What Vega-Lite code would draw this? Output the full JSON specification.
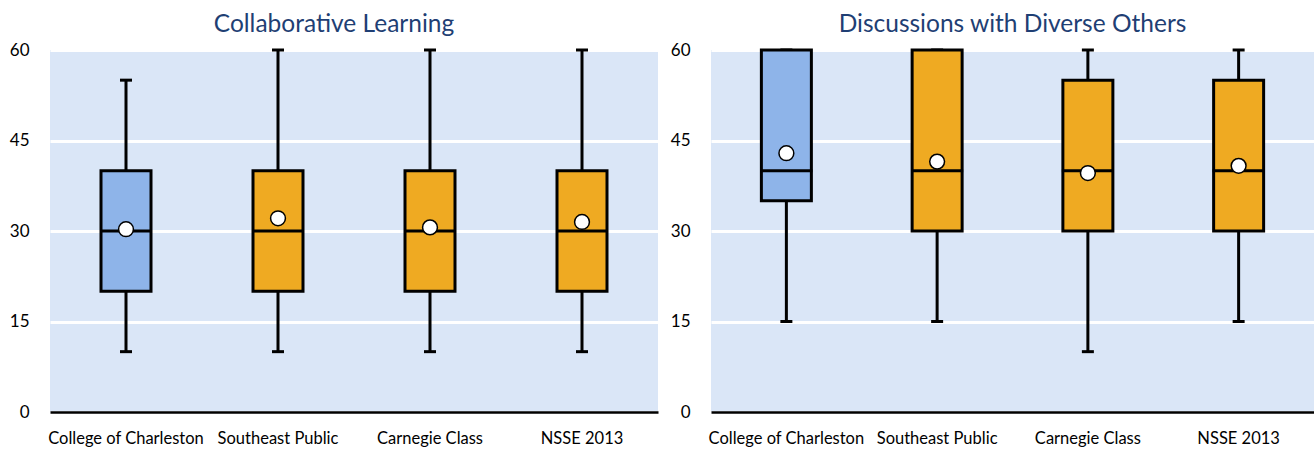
{
  "$schema": "https://vega.github.io/schema/vega-lite/v6.json",
  "padding": {"left": 9, "top": 11, "right": 0, "bottom": 0},
  "background": "white",
  "spacing": 12,
  "datasets": {
    "box": [
      {"panel": "Collaborative Learning", "group": "College of Charleston", "low": 10, "q1": 20, "median": 30, "q3": 40, "high": 55, "mean": 30.3},
      {"panel": "Collaborative Learning", "group": "Southeast Public", "low": 10, "q1": 20, "median": 30, "q3": 40, "high": 60, "mean": 32.1},
      {"panel": "Collaborative Learning", "group": "Carnegie Class", "low": 10, "q1": 20, "median": 30, "q3": 40, "high": 60, "mean": 30.6},
      {"panel": "Collaborative Learning", "group": "NSSE 2013", "low": 10, "q1": 20, "median": 30, "q3": 40, "high": 60, "mean": 31.5},
      {"panel": "Discussions with Diverse Others", "group": "College of Charleston", "low": 15, "q1": 35, "median": 40, "q3": 60, "high": 60, "mean": 42.9},
      {"panel": "Discussions with Diverse Others", "group": "Southeast Public", "low": 15, "q1": 30, "median": 40, "q3": 60, "high": 60, "mean": 41.5},
      {"panel": "Discussions with Diverse Others", "group": "Carnegie Class", "low": 10, "q1": 30, "median": 40, "q3": 55, "high": 60, "mean": 39.6},
      {"panel": "Discussions with Diverse Others", "group": "NSSE 2013", "low": 15, "q1": 30, "median": 40, "q3": 55, "high": 60, "mean": 40.8}
    ]
  },
  "config": {
    "font": "Lato",
    "view": {"fill": "#DAE6F7", "stroke": null},
    "axisY": {"grid": true, "gridColor": "white", "gridWidth": 3, "domain": false, "ticks": false, "labelFontSize": 17, "labelColor": "black", "labelPadding": 21, "title": null},
    "axisX": {"domain": true, "domainColor": "black", "domainWidth": 2.5, "ticks": false, "labelFontSize": 16.5, "labelColor": "black", "labelPadding": 18, "labelAngle": 0, "title": null, "grid": false, "zindex": 1},
    "title": {"color": "#1F3F74", "fontSize": 24.5, "fontWeight": "normal", "offset": 4}
  },
  "hconcat": [
    {
      "title": {"text": "Collaborative Learning", "dx": -20},
      "width": 608,
      "height": 362,
      "data": {"name": "box"},
      "transform": [{"filter": "datum.panel === 'Collaborative Learning'"}],
      "encoding": {
        "x": {"field": "group", "type": "nominal", "sort": ["College of Charleston", "Southeast Public", "Carnegie Class", "NSSE 2013"], "scale": {"paddingInner": 0, "paddingOuter": 0}}
      },
      "layer": [
        {"mark": {"type": "rule", "strokeWidth": 3, "color": "black"}, "encoding": {"y": {"field": "low", "type": "quantitative", "scale": {"domain": [0, 60]}, "axis": {"values": [0, 15, 30, 45, 60]}}, "y2": {"field": "high"}}},
        {"mark": {"type": "tick", "size": 12, "thickness": 3, "color": "black", "opacity": 1}, "encoding": {"y": {"field": "low", "type": "quantitative"}}},
        {"mark": {"type": "tick", "size": 12, "thickness": 3, "color": "black", "opacity": 1}, "encoding": {"y": {"field": "high", "type": "quantitative"}}},
        {"mark": {"type": "bar", "width": 50, "stroke": "black", "strokeWidth": 3, "opacity": 1}, "encoding": {"y": {"field": "q1", "type": "quantitative"}, "y2": {"field": "q3"}, "color": {"field": "group", "type": "nominal", "legend": null, "scale": {"domain": ["College of Charleston", "Southeast Public", "Carnegie Class", "NSSE 2013"], "range": ["#8EB4E9", "#EFAA22", "#EFAA22", "#EFAA22"]}}}},
        {"mark": {"type": "tick", "size": 52, "thickness": 3, "color": "black", "opacity": 1}, "encoding": {"y": {"field": "median", "type": "quantitative"}}},
        {"mark": {"type": "point", "shape": "circle", "filled": true, "fill": "white", "stroke": "black", "strokeWidth": 1.5, "size": 220, "opacity": 1}, "encoding": {"y": {"field": "mean", "type": "quantitative"}}}
      ]
    },
    {
      "title": {"text": "Discussions with Diverse Others"},
      "width": 603,
      "height": 362,
      "data": {"name": "box"},
      "transform": [{"filter": "datum.panel === 'Discussions with Diverse Others'"}],
      "encoding": {
        "x": {"field": "group", "type": "nominal", "sort": ["College of Charleston", "Southeast Public", "Carnegie Class", "NSSE 2013"], "scale": {"paddingInner": 0, "paddingOuter": 0}}
      },
      "layer": [
        {"mark": {"type": "rule", "strokeWidth": 3, "color": "black"}, "encoding": {"y": {"field": "low", "type": "quantitative", "scale": {"domain": [0, 60]}, "axis": {"values": [0, 15, 30, 45, 60]}}, "y2": {"field": "high"}}},
        {"mark": {"type": "tick", "size": 12, "thickness": 3, "color": "black", "opacity": 1}, "encoding": {"y": {"field": "low", "type": "quantitative"}}},
        {"mark": {"type": "tick", "size": 12, "thickness": 3, "color": "black", "opacity": 1}, "encoding": {"y": {"field": "high", "type": "quantitative"}}},
        {"mark": {"type": "bar", "width": 50, "stroke": "black", "strokeWidth": 3, "opacity": 1}, "encoding": {"y": {"field": "q1", "type": "quantitative"}, "y2": {"field": "q3"}, "color": {"field": "group", "type": "nominal", "legend": null, "scale": {"domain": ["College of Charleston", "Southeast Public", "Carnegie Class", "NSSE 2013"], "range": ["#8EB4E9", "#EFAA22", "#EFAA22", "#EFAA22"]}}}},
        {"mark": {"type": "tick", "size": 52, "thickness": 3, "color": "black", "opacity": 1}, "encoding": {"y": {"field": "median", "type": "quantitative"}}},
        {"mark": {"type": "point", "shape": "circle", "filled": true, "fill": "white", "stroke": "black", "strokeWidth": 1.5, "size": 220, "opacity": 1}, "encoding": {"y": {"field": "mean", "type": "quantitative"}}}
      ]
    }
  ]
}
